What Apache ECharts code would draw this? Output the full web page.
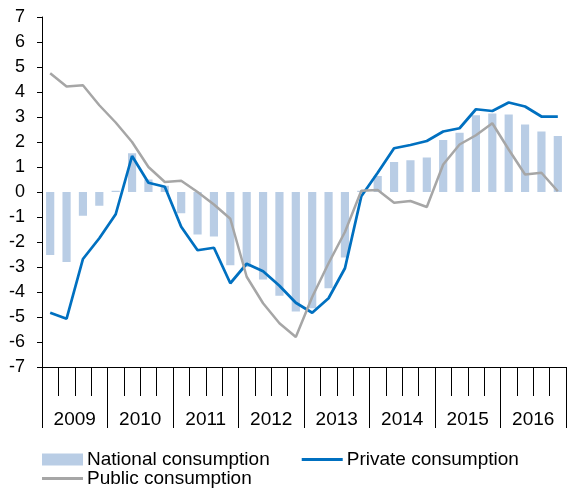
<!DOCTYPE html>
<html>
<head>
<meta charset="utf-8">
<script src="https://cdn.jsdelivr.net/npm/echarts@6/dist/echarts.min.js"></script>
<style>
html,body{margin:0;padding:0;background:#fff;}
#chart{width:567px;height:491px;}
</style>
</head>
<body>
<div id="chart"></div>
<script>
const years = ['2009','2010','2011','2012','2013','2014','2015','2016'];
const quarters = ['2009Q1','2009Q2','2009Q3','2009Q4','2010Q1','2010Q2','2010Q3','2010Q4','2011Q1','2011Q2','2011Q3','2011Q4','2012Q1','2012Q2','2012Q3','2012Q4','2013Q1','2013Q2','2013Q3','2013Q4','2014Q1','2014Q2','2014Q3','2014Q4','2015Q1','2015Q2','2015Q3','2015Q4','2016Q1','2016Q2','2016Q3','2016Q4'];
const national = [-2.52, -2.8, -0.95, -0.55, 0.05, 1.55, 0.5, 0.25, -0.85, -1.7, -1.78, -2.93, -3.0, -3.5, -4.15, -4.78, -4.65, -3.85, -2.62, 0.05, 0.64, 1.2, 1.27, 1.38, 2.08, 2.37, 3.07, 3.14, 3.1, 2.7, 2.42, 2.24];
const privateC = [-4.83, -5.07, -2.68, -1.85, -0.89, 1.44, 0.37, 0.21, -1.39, -2.33, -2.23, -3.65, -2.87, -3.17, -3.75, -4.43, -4.83, -4.25, -3.05, -0.17, 0.77, 1.75, 1.88, 2.04, 2.42, 2.55, 3.31, 3.24, 3.58, 3.42, 3.02, 3.02];
const publicC = [4.75, 4.22, 4.27, 3.47, 2.78, 2.0, 1.0, 0.4, 0.45, 0.0, -0.5, -1.07, -3.39, -4.45, -5.25, -5.8, -4.2, -2.85, -1.6, 0.05, 0.08, -0.43, -0.36, -0.6, 1.1, 1.9, 2.27, 2.75, 1.7, 0.7, 0.77, 0.03];
const yTicks = [-7, 7, 1];

const FONT = 'Liberation Sans, Arial, sans-serif';
const LINE_ICON = 'path://M0,0H40V3H0Z';
const chart = echarts.init(document.getElementById('chart'), null, {renderer: 'canvas'});
chart.setOption({
  animation: false,
  backgroundColor: '#ffffff',
  textStyle: {fontFamily: FONT, color: '#000'},
  grid: {left: 42, right: 1, top: 17, bottom: 124, containLabel: false},
  legend: [
    {
      data: [
        {name: 'National consumption', icon: 'rect'},
        {name: 'Private consumption', icon: LINE_ICON}
      ],
      left: 42, top: 450, orient: 'horizontal',
      itemWidth: 41, itemHeight: 12, itemGap: 32,
      textStyle: {fontFamily: FONT, fontSize: 19, color: '#000', padding: [0,0,0,-1]},
      padding: 0, selectedMode: false
    },
    {
      data: [{name: 'Public consumption', icon: LINE_ICON}],
      left: 42, top: 469, orient: 'horizontal',
      itemWidth: 41, itemHeight: 12,
      textStyle: {fontFamily: FONT, fontSize: 19, color: '#000', padding: [0,0,0,-1]},
      padding: 0, selectedMode: false
    }
  ],
  xAxis: [
    {
      type: 'category', data: quarters, boundaryGap: true, position: 'bottom',
      axisLine: {onZero: false, lineStyle: {color: '#000', width: 1}},
      axisTick: {show: true, interval: 0, length: 29, lineStyle: {color: '#000', width: 1}},
      axisLabel: {show: false, interval: 0},
      splitLine: {show: false}
    },
    {
      type: 'category', data: years, boundaryGap: true, position: 'bottom',
      axisLine: {onZero: false, lineStyle: {color: '#000', width: 1}},
      axisTick: {show: true, interval: 0, length: 61, lineStyle: {color: '#000', width: 1}},
      axisLabel: {show: true, interval: 0, margin: 43, fontSize: 19, fontFamily: FONT, color: '#000'},
      splitLine: {show: false}
    }
  ],
  yAxis: {
    type: 'value', min: yTicks[0], max: yTicks[1], interval: yTicks[2],
    axisLine: {show: true, lineStyle: {color: '#000', width: 1}},
    axisTick: {show: true, length: 5, inside: false, lineStyle: {color: '#000'}},
    axisLabel: {margin: 17, fontSize: 18, fontFamily: FONT, color: '#000'},
    splitLine: {show: false}
  },
  series: [
    {
      name: 'National consumption', type: 'bar', xAxisIndex: 0, data: national,
      barWidth: '50%', itemStyle: {color: '#B9CDE5'}
    },
    {
      name: 'Private consumption', type: 'line', xAxisIndex: 0, data: privateC,
      symbol: 'none', lineStyle: {color: '#0070C0', width: 2.75}, itemStyle: {color: '#0070C0'}
    },
    {
      name: 'Public consumption', type: 'line', xAxisIndex: 0, data: publicC,
      symbol: 'none', lineStyle: {color: '#A6A6A6', width: 2.5}, itemStyle: {color: '#A6A6A6'}
    }
  ]
});
</script>
</body>
</html>
